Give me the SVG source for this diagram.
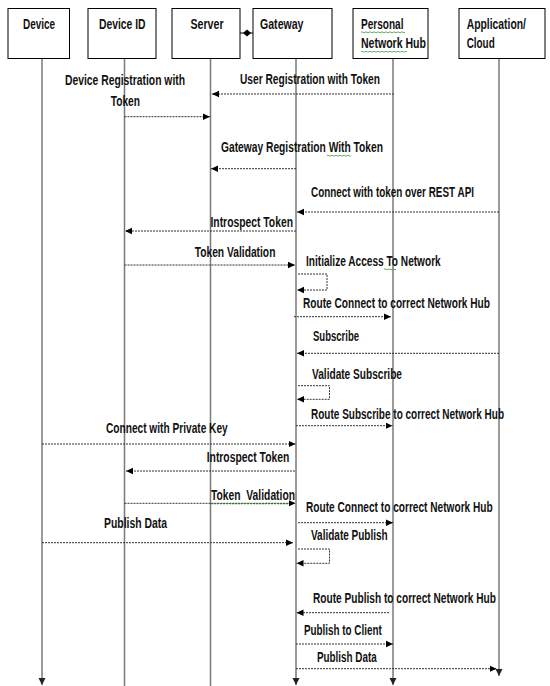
<svg xmlns="http://www.w3.org/2000/svg" width="550" height="686" viewBox="0 0 550 686">
<style>
.box{fill:#fff;stroke:#000;stroke-width:1}
.life{stroke:#7a7a7a;stroke-width:1.5;fill:none}
.msg{stroke:#333;stroke-width:1;stroke-dasharray:2 1;fill:none}
.green{stroke:#2e7d32;stroke-width:1.2;stroke-dasharray:2 1;fill:none}
.sq{stroke:#3aa03a;stroke-width:0.8;fill:none}
text{font-family:"Liberation Sans Narrow","Liberation Sans",Arial,sans-serif;font-weight:bold;font-size:14px;fill:#111}
</style>
<defs>
<marker id="ah" markerUnits="userSpaceOnUse" markerWidth="8" markerHeight="8" refX="7" refY="4" orient="auto">
<path d="M0,0.8 L7,4 L0,7.2 Z" fill="#000"/>
</marker>
<marker id="ad" markerUnits="userSpaceOnUse" markerWidth="8" markerHeight="8" refX="7" refY="4" orient="auto">
<path d="M0,0.5 L7,4 L0,7.5 Z" fill="#222"/>
</marker>
</defs>
<rect width="550" height="686" fill="#fff"/>

<g id="lifelines">
<line class="life" x1="42" y1="58.5" x2="42" y2="685" marker-end="url(#ad)"/>
<line class="life" x1="124.5" y1="58.5" x2="124.5" y2="686"/>
<line class="life" x1="210.5" y1="58.5" x2="210.5" y2="686"/>
<line class="life" x1="296" y1="58.5" x2="296" y2="685" marker-end="url(#ad)"/>
<line class="life" x1="393" y1="58.5" x2="393" y2="685" marker-end="url(#ad)"/>
<line class="life" x1="499" y1="58.5" x2="499" y2="676" marker-end="url(#ad)"/>
</g>

<g id="node-device">
<rect class="box" x="8" y="8.5" width="61.5" height="50"/>
<text x="23" y="29" textLength="32" lengthAdjust="spacingAndGlyphs">Device</text>
</g>
<g id="node-deviceid">
<rect class="box" x="88" y="8.5" width="68" height="50"/>
<text x="99" y="29" textLength="46.6" lengthAdjust="spacingAndGlyphs">Device ID</text>
</g>
<g id="node-server">
<rect class="box" x="172" y="8.5" width="68" height="50"/>
<text x="190.5" y="29" textLength="33" lengthAdjust="spacingAndGlyphs">Server</text>
</g>
<g id="node-gateway">
<rect class="box" x="253" y="8.5" width="79" height="50"/>
<text x="260" y="29" textLength="43.5" lengthAdjust="spacingAndGlyphs">Gateway</text>
</g>
<g id="node-hub">
<rect class="box" x="353" y="8.5" width="75" height="50"/>
<text x="361" y="29" textLength="42.5" lengthAdjust="spacingAndGlyphs">Personal</text>
<text x="361" y="48.3" textLength="65" lengthAdjust="spacingAndGlyphs">Network Hub</text>
<path class="sq" d="M361,32.3 q1,-1 2,0 t2,0 t2,0 t2,0 t2,0 t2,0 t2,0 t2,0 t2,0 t2,0 t2,0 t2,0 t2,0 t2,0 t2,0 t2,0 t2,0 t2,0 t2,0 t2,0 t2,0 t2,0"/>
<path class="sq" d="M361,51.7 q1,-1 2,0 t2,0 t2,0 t2,0 t2,0 t2,0 t2,0 t2,0 t2,0 t2,0 t2,0 t2,0 t2,0 t2,0 t2,0 t2,0 t2,0 t2,0 t2,0 t2,0 t2,0 t2,0 t2,0"/>
</g>
<g id="node-cloud">
<rect class="box" x="459" y="8.5" width="86" height="50"/>
<text x="466.7" y="29" textLength="59.3" lengthAdjust="spacingAndGlyphs">Application/</text>
<text x="466.7" y="48" textLength="28" lengthAdjust="spacingAndGlyphs">Cloud</text>
</g>

<g id="connectors">
<line x1="240" y1="33" x2="253" y2="33" stroke="#000" stroke-width="1"/>
<polygon points="243,33 247,29.5 251,33 247,36.5" fill="#000"/>

<line class="msg" x1="124.5" y1="116.7" x2="210" y2="116.7" marker-end="url(#ah)"/>
<line class="msg" x1="394" y1="94" x2="212" y2="94" marker-end="url(#ah)"/>
<line class="msg" x1="296" y1="168.7" x2="211" y2="168.7" marker-end="url(#ah)"/>
<line class="msg" x1="499" y1="212" x2="297" y2="212" marker-end="url(#ah)"/>
<line class="msg" x1="296" y1="231" x2="125" y2="231" marker-end="url(#ah)"/>
<line class="msg" x1="124.5" y1="265" x2="295" y2="265" marker-end="url(#ah)"/>
<polyline class="msg" points="298,274 327,274 327,290 297,290" marker-end="url(#ah)"/>
<line class="msg" x1="294" y1="316.7" x2="391" y2="316.7" marker-end="url(#ah)"/>
<line class="msg" x1="499" y1="353.3" x2="297" y2="353.3" marker-end="url(#ah)"/>
<polyline class="msg" points="298,385.7 329.5,385.7 329.5,399.3 297,399.3" marker-end="url(#ah)"/>
<line class="msg" x1="296" y1="425.7" x2="392.5" y2="425.7" marker-end="url(#ah)"/>
<line class="msg" x1="42" y1="444" x2="295.5" y2="444" marker-end="url(#ah)"/>
<line class="msg" x1="295" y1="471" x2="126" y2="471" marker-end="url(#ah)"/>
<line class="msg" x1="124.5" y1="503.3" x2="295.5" y2="503.3" marker-end="url(#ah)"/>
<line class="green" x1="211" y1="503.6" x2="289" y2="503.6"/>
<line class="msg" x1="298" y1="522.7" x2="393" y2="522.7" marker-end="url(#ah)"/>
<line class="msg" x1="42" y1="542.7" x2="293" y2="542.7" marker-end="url(#ah)"/>
<polyline class="msg" points="298,549 329.5,549 329.5,563.3 296.5,563.3" marker-end="url(#ah)"/>
<line class="msg" x1="389" y1="612.7" x2="296.5" y2="612.7" marker-end="url(#ah)"/>
<line class="msg" x1="296" y1="644" x2="393" y2="644" marker-end="url(#ah)"/>
<line class="msg" x1="296" y1="668.7" x2="496.5" y2="668.7" marker-end="url(#ah)"/>
</g>

<g id="labels">
<text x="65" y="85" textLength="120" lengthAdjust="spacingAndGlyphs">Device Registration with</text>
<text x="110.7" y="105.7" textLength="29.3" lengthAdjust="spacingAndGlyphs">Token</text>
<text x="240" y="84" textLength="140" lengthAdjust="spacingAndGlyphs">User Registration with Token</text>
<text x="221" y="152" textLength="162" lengthAdjust="spacingAndGlyphs">Gateway Registration With Token</text>
<path class="sq" d="M327,155.7 q1,-1 2,0 t2,0 t2,0 t2,0 t2,0 t2,0 t2,0 t2,0 t2,0 t2,0 t2,0 t2,0"/>
<text x="311" y="197" textLength="163" lengthAdjust="spacingAndGlyphs">Connect with token over REST API</text>
<text x="210.5" y="227" textLength="82.5" lengthAdjust="spacingAndGlyphs">Introspect Token</text>
<text x="194.7" y="257" textLength="80.7" lengthAdjust="spacingAndGlyphs">Token Validation</text>
<text x="306" y="266" textLength="134.7" lengthAdjust="spacingAndGlyphs">Initialize Access To Network</text>
<path class="sq" d="M384,269.3 q1,-1 2,0 t2,0 t2,0 t2,0 t2,0 t2,0"/>
<text x="303" y="308" textLength="187" lengthAdjust="spacingAndGlyphs">Route Connect to correct Network Hub</text>
<text x="313" y="340.7" textLength="46" lengthAdjust="spacingAndGlyphs">Subscribe</text>
<text x="312" y="379.3" textLength="90" lengthAdjust="spacingAndGlyphs">Validate Subscribe</text>
<text x="311" y="419.3" textLength="193" lengthAdjust="spacingAndGlyphs">Route Subscribe to correct Network Hub</text>
<text x="106" y="433.3" textLength="121.7" lengthAdjust="spacingAndGlyphs">Connect with Private Key</text>
<text x="206.7" y="462.3" textLength="82.6" lengthAdjust="spacingAndGlyphs">Introspect Token</text>
<text x="211" y="500" textLength="84" lengthAdjust="spacingAndGlyphs" xml:space="preserve">Token  Validation</text>
<text x="306" y="511.7" textLength="186.7" lengthAdjust="spacingAndGlyphs">Route Connect to correct Network Hub</text>
<text x="104" y="528.3" textLength="63" lengthAdjust="spacingAndGlyphs">Publish Data</text>
<text x="311" y="540" textLength="76.7" lengthAdjust="spacingAndGlyphs">Validate Publish</text>
<text x="313" y="602.7" textLength="183" lengthAdjust="spacingAndGlyphs">Route Publish to correct Network Hub</text>
<text x="304" y="635" textLength="77.7" lengthAdjust="spacingAndGlyphs">Publish to Client</text>
<text x="317" y="661.7" textLength="59.7" lengthAdjust="spacingAndGlyphs">Publish Data</text>
</g>
</svg>
